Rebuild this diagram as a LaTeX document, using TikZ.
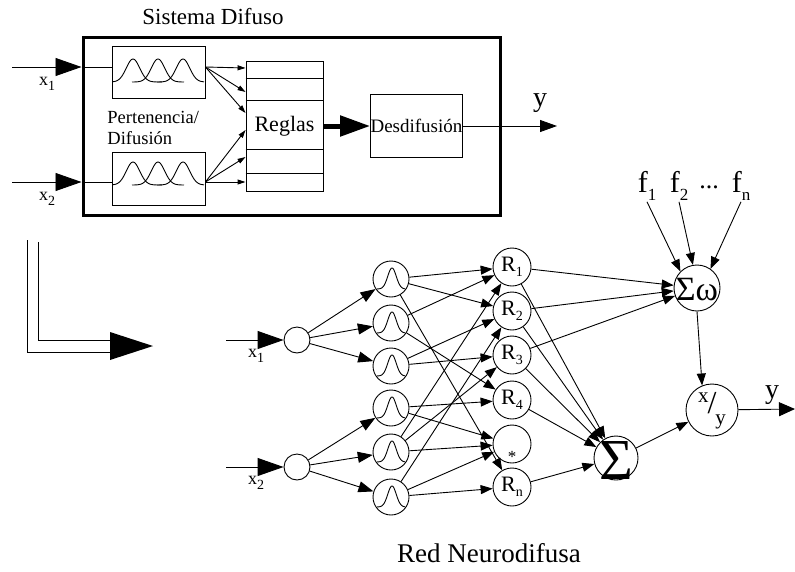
\documentclass[tikz,border=0pt]{standalone}
\usepackage{fontspec}
\setmainfont{Liberation Serif}
\usetikzlibrary{arrows.meta,calc}
\newcommand\fs[1]{\fontsize{#1}{#1}\selectfont}
\newcommand\mysub[2][14]{\raisebox{-0.55ex}{\fs{#1}#2}}
\newcommand\ctr[2][3pt]{\smash{\makebox[0pt]{\raisebox{-#1}{#2}}}}
\tikzset{
  bigtip/.style={-{Triangle[length=26pt,width=18pt]}},
  intip/.style={-{Triangle[length=15pt,width=11pt]}},
  nettip/.style={-{Triangle[length=12pt,width=9pt]}},
  smalltip/.style={-{Triangle[length=8pt,width=5pt]}},
  boxnode/.style={draw,inner sep=0pt},
  gnode/.style={circle,draw,minimum size=36pt,inner sep=0pt},
  rnode/.style={circle,draw,minimum size=38pt,inner sep=0pt,font=\fs{22}},
  inode/.style={circle,draw,minimum size=26pt,inner sep=0pt},
  lbl/.style={inner sep=1pt},
}
\begin{document}
\begin{tikzpicture}[x=1pt,y=-1pt,line width=0.9pt]
\useasboundingbox (0,0) rectangle (795,571);

% ---------------- Sistema Difuso ----------------
\node[font=\fs{23}] (title) at (213,17) {Sistema Difuso};
\node[boxnode,line width=3pt,minimum width=417pt,minimum height=178pt] (sys) at (291.5,126) {};
\node[boxnode,minimum width=93pt,minimum height=52pt] (mf1) at (158.5,72) {};
\node[boxnode,minimum width=93pt,minimum height=53pt] (mf2) at (158.5,178.5) {};
\node[boxnode,minimum width=77pt,minimum height=130pt,font=\fs{22}] (reg) at (284.5,126) {Reglas};
\node[boxnode,minimum width=91pt,minimum height=63pt,font=\fs{19}] (des) at (416.5,126) {Desdifusión};
\node[anchor=west,align=left,font={\fontsize{18.5}{21}\selectfont},inner sep=0pt] (pd) at (107,128) {Pertenencia/\\Difusión};

% membership curves
\foreach \mybase in {82,185}{
  \foreach \mycen/\mylo/\myhi in {133/113/162,158/132/184,183/157/204}{
    \draw plot[domain=\mylo:\myhi,samples=60,smooth]
      ({\x},{\mybase-23*exp(-((\x-\mycen)/9.5)*((\x-\mycen)/9.5))});
  }
}

% table lines
\foreach \yy in {78,100,149,173}
  \draw (reg.west |- 0,\yy) -- (reg.east |- 0,\yy);

% inputs
\coordinate (xin1) at (12,67);
\coordinate (xin2) at (12,182);
\coordinate (e1) at (sys.west |- xin1);
\coordinate (e2) at (sys.west |- xin2);
\draw[bigtip] (xin1) -- (e1);
\draw[bigtip] (xin2) -- (e2);
\draw (e1) -- (mf1.west |- e1);
\draw (e2) -- (mf2.west |- e2);
\node[lbl,font=\fs{18}] (lx1) at (47,84) {x\mysub{1}};
\node[lbl,font=\fs{18}] (lx2) at (47,199) {x\mysub{2}};

% fuzzification -> rules
\coordinate (o1) at (mf1.east |- e1);
\coordinate (o2) at (mf2.east |- e2);
\foreach \yy in {68,92,113} \draw[smalltip] (o1) -- (reg.west |- 0,\yy);
\foreach \yy in {130,157,182} \draw[smalltip] (o2) -- (reg.west |- 0,\yy);

% rules -> defuzz
\draw[line width=5pt,-{Triangle[length=30pt,width=20pt]}] (reg.east |- des.west) -- (des.west);
\coordinate (yout) at (557,126);
\draw[-{Triangle[length=17pt,width=12pt]}] (des.east) -- (yout);
\node[font=\fs{28}] (ly) at (540,103) {y};

% ---------------- transition arrow ----------------
\draw (27,240) -- (27,352) -- (112,352);
\draw (38,242) -- (38,340) -- (112,340);
\fill (110,332) -- (153,346) -- (110,360) -- cycle;

% ---------------- Red Neurodifusa ----------------
\node[inode] (i1) at (297,340) {};
\node[inode] (i2) at (297,467) {};
\coordinate (s1) at (226,340);
\coordinate (s2) at (226,467);
\draw[bigtip] (s1) -- (i1);
\draw[bigtip] (s2) -- (i2);
\node[lbl,font=\fs{18}] (nx1) at (256,356) {x\mysub{1}};
\node[lbl,font=\fs{18}] (nx2) at (256,483) {x\mysub{2}};

\foreach \n/\yy in {g1/279,g2/323,g3/366,g4/408,g5/452,g6/497}
  \node[gnode] (\n) at (391,\yy) {};
\foreach \n in {g1,g2,g3,g4,g5,g6}
  \draw[shift={(\n.center)}] plot[domain=-14:14,samples=60,smooth]
    ({\x},{10-21*exp(-((\x-1)/6)*((\x-1)/6))});

\node[rnode] (r1) at (512,267) {R\mysub{1}};
\node[rnode] (r2) at (512,311) {R\mysub{2}};
\node[rnode] (r3) at (512,355) {R\mysub{3}};
\node[rnode] (r4) at (512,400) {R\mysub{4}};
\node[rnode] (rs) at (512,444) {\ctr[18pt]{\fs{17}*}};
\node[rnode] (rn) at (512,487) {R\mysub{n}};

\node[circle,draw,minimum size=44pt,inner sep=0pt] (sum) at (616,458) {\ctr[21pt]{\fs{58}Σ}};
\node[circle,draw,minimum size=46pt,inner sep=0pt] (sw) at (697,288) {\ctr[12pt]{\fs{34}Σω}};
\node[circle,draw,minimum size=52pt,inner sep=0pt] (xy) at (712,410)
  {\ctr[3pt]{\fs{21}\raisebox{0.5em}{x}\hspace{-1pt}{\fs{32}/}\hspace{-1pt}\raisebox{-0.55em}{y}}};

% input -> membership
\foreach \n in {g1,g2,g3} \draw[intip] (i1) -- (\n);
\foreach \n in {g4,g5,g6} \draw[intip] (i2) -- (\n);

% membership -> rules
\foreach \a/\b in {g1/r1,g1/r2,g1/rn,g2/r1,g2/r4,g3/r2,g3/r3,g4/r4,g4/rs,
                   g5/r1,g5/r3,g5/rs,g6/r2,g6/rs,g6/rn}
  \draw[nettip] (\a) -- (\b);

% rules -> sums
\foreach \a in {r1,r2,r3} \draw[nettip] (\a) -- (sw);
\foreach \a in {r1,r2,r3,r4,rn} \draw[nettip] (\a) -- (sum);

% f inputs
\node[lbl,font=\fs{30}] (f1) at (647,186) {f\mysub[17]{1}};
\node[lbl,font=\fs{30}] (f2) at (679,186) {f\mysub[17]{2}};
\node[lbl,font=\fs{26}] (fd) at (709,187) {...};
\node[lbl,font=\fs{30}] (fn) at (741,186) {f\mysub[17]{n}};
\draw[nettip] (f1.south) -- (sw.135);
\draw[nettip] (f2.south) -- (sw.100);
\draw[nettip] (fn.south) -- (sw.55);

\draw[nettip] (sw.south) -- (xy.112);
\draw[nettip] (sum) -- (xy);
\coordinate (yo) at (795,409);
\draw[-{Triangle[length=16pt,width=14pt]}] (xy) -- (yo);
\node[font=\fs{28}] (ly2) at (772,395) {y};

\node[font=\fs{27}] (net) at (489,553) {Red Neurodifusa};
\end{tikzpicture}
\end{document}
